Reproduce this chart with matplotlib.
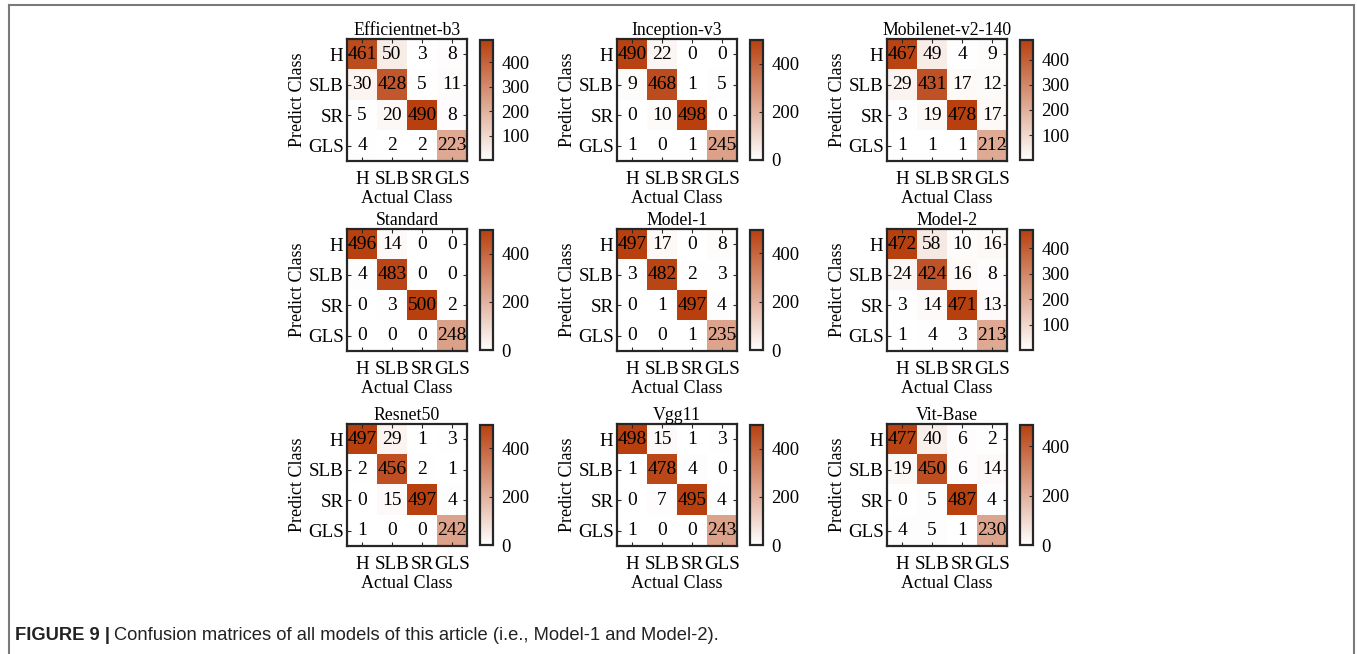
import numpy as np
import matplotlib
matplotlib.use("Agg")
import matplotlib.pyplot as plt
from matplotlib.colors import LinearSegmentedColormap
from matplotlib.lines import Line2D

plt.rcParams['font.family'] = ['Liberation Serif', 'DejaVu Serif']

classes = ["H", "SLB", "SR", "GLS"]

titles = ["Efficientnet-b3", "Inception-v3", "Mobilenet-v2-140",
          "Standard", "Model-1", "Model-2",
          "Resnet50", "Vgg11", "Vit-Base"]

efficientnet_b3 = [[461, 50, 3, 8], [30, 428, 5, 11], [5, 20, 490, 8], [4, 2, 2, 223]]
inception_v3 = [[490, 22, 0, 0], [9, 468, 1, 5], [0, 10, 498, 0], [1, 0, 1, 245]]
mobilenet_v2 = [[467, 49, 4, 9], [29, 431, 17, 12], [3, 19, 478, 17], [1, 1, 1, 212]]
standard = [[496, 14, 0, 0], [4, 483, 0, 0], [0, 3, 500, 2], [0, 0, 0, 248]]
model_1 = [[497, 17, 0, 8], [3, 482, 2, 3], [0, 1, 497, 4], [0, 0, 1, 235]]
model_2 = [[472, 58, 10, 16], [24, 424, 16, 8], [3, 14, 471, 13], [1, 4, 3, 213]]
resnet50 = [[497, 29, 1, 3], [2, 456, 2, 1], [0, 15, 497, 4], [1, 0, 0, 242]]
vgg11 = [[498, 15, 1, 3], [1, 478, 4, 0], [0, 7, 495, 4], [1, 0, 0, 243]]
vit_base = [[477, 40, 6, 2], [19, 450, 6, 14], [0, 5, 487, 4], [4, 5, 1, 230]]

matrices = [efficientnet_b3, inception_v3, mobilenet_v2,
            standard, model_1, model_2,
            resnet50, vgg11, vit_base]

W, H = 1357, 654
fig = plt.figure(figsize=(W / 100, H / 100), dpi=100)

cmap = LinearSegmentedColormap.from_list("wr", ["#ffffff", "#b8400f"])
edge = "#262626"

# panel layout in pixels
col_x = [347, 617, 887]
row_y = [39, 229, 424]
hw, hh = 120, 122


def px_axes(x, y, w, h):
    return fig.add_axes([x / W, 1 - (y + h) / H, w / W, h / H])


for k, (name, mat) in enumerate(zip(titles, matrices)):
    m = np.array(mat)
    x0 = col_x[k % 3]
    y0 = row_y[k // 3]
    ax = px_axes(x0, y0, hw, hh)
    vmin, vmax = m.min(), m.max()
    im = ax.imshow(m, cmap=cmap, vmin=vmin, vmax=vmax, aspect="auto",
                   interpolation="nearest")
    for i in range(4):
        for j in range(4):
            ax.text(j, i, str(m[i, j]), ha="center", va="center",
                    fontsize=14, color="black")
    ax.set_xticks(range(4))
    ax.set_yticks(range(4))
    ax.set_xticklabels(classes, fontsize=13.7)
    ax.set_yticklabels(classes, fontsize=13.7)
    ax.tick_params(direction="in", length=3, width=0.8, color=edge,
                   top=True, right=True)
    ax.tick_params(axis="x", pad=7)
    ax.tick_params(axis="y", pad=2.5)
    for s in ax.spines.values():
        s.set_color(edge)
        s.set_linewidth(1.6)
    ax.set_title(name, fontsize=12.8, pad=3)
    ax.set_xlabel("Actual Class", fontsize=13, labelpad=1.5)
    ax.set_ylabel("Predict Class", fontsize=13, labelpad=1.5)

    cax = px_axes(x0 + 133, y0 + 1, 13, hh - 2)
    cb = fig.colorbar(im, cax=cax)
    cb.outline.set_edgecolor(edge)
    cb.outline.set_linewidth(1.6)
    cb.set_ticks([t for t in range(0, 501, 100) if vmin <= t <= vmax]
                 if vmin > 0 else [0, 200, 400])
    cax.tick_params(direction="in", length=3, width=0.8, color=edge,
                    labelsize=13.5, pad=6)

# outer frame (open at the bottom)
fc = "#7a7a7a"
fig.add_artist(Line2D([9 / W, 9 / W], [0, 1 - 5 / H], color=fc, lw=1.5,
                      transform=fig.transFigure))
fig.add_artist(Line2D([9 / W, 1354 / W], [1 - 5 / H, 1 - 5 / H], color=fc,
                      lw=1.5, transform=fig.transFigure))
fig.add_artist(Line2D([1354 / W, 1354 / W], [0, 1 - 5 / H], color=fc, lw=1.5,
                      transform=fig.transFigure))

# caption
cap_y = 1 - 636 / H
t1 = fig.text(15 / W, cap_y, "FIGURE 9 |", fontsize=13.2, fontweight="bold",
              family="Liberation Sans", va="center", color="#222222")
fig.canvas.draw()
bb = t1.get_window_extent()
fig.text((bb.x1 + 4) / W, cap_y,
         "Confusion matrices of all models of this article (i.e., Model-1 and Model-2).",
         fontsize=13.2, family="Liberation Sans", va="center", color="#222222")

fig.savefig("out.png", dpi=100)
